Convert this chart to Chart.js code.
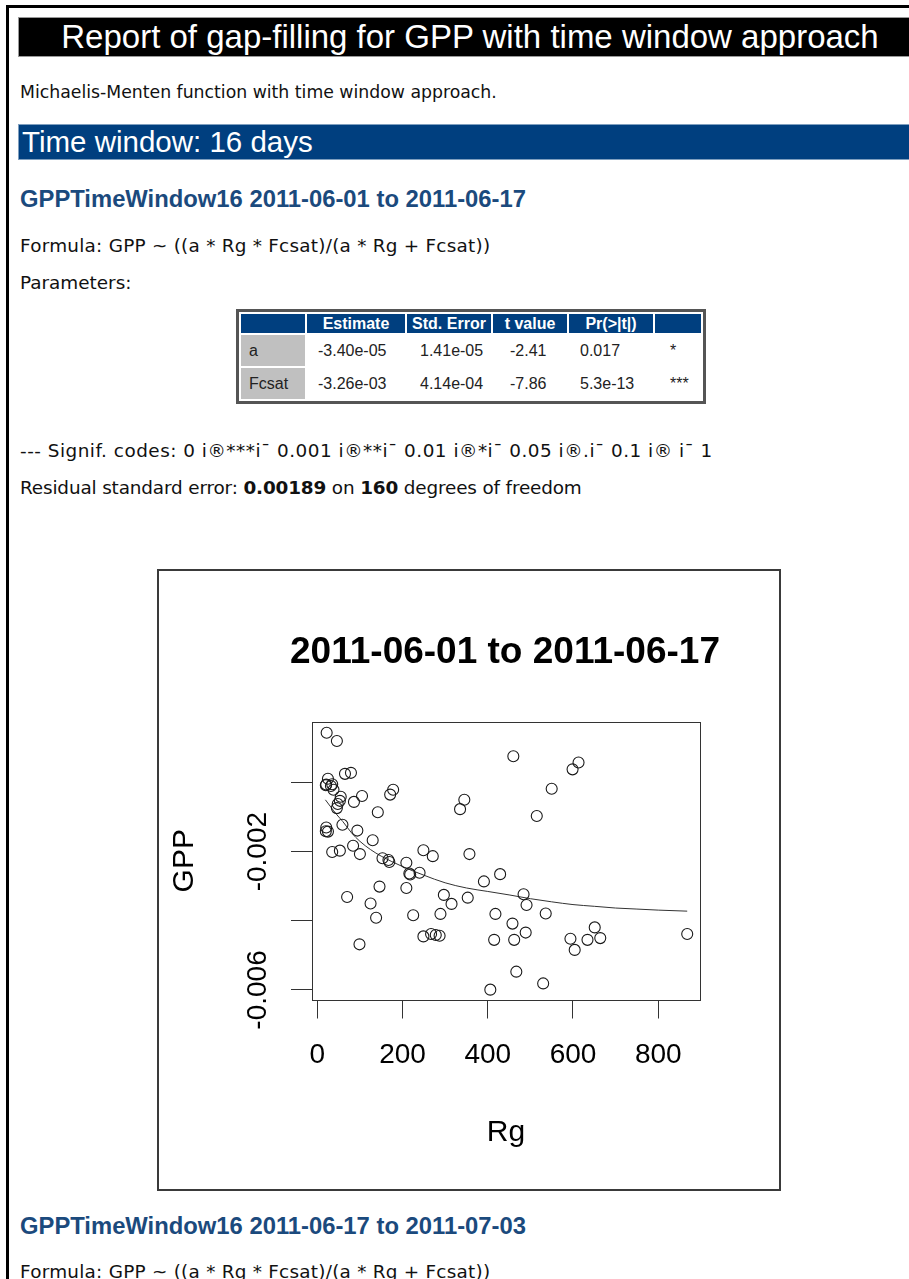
<!DOCTYPE html>
<html>
<head>
<meta charset="utf-8">
<script src="https://cdn.jsdelivr.net/npm/chart.js@4.4.1/dist/chart.umd.min.js"></script>
<style>
html,body{margin:0;padding:0;background:#fff;}
body{width:909px;height:1279px;overflow:hidden;position:relative;}
#pageborder{position:absolute;left:6px;top:5px;width:1000px;height:1400px;border-left:3px solid #000;border-top:3px solid #000;}
.t{position:absolute;white-space:nowrap;font-family:'DejaVu Sans',Verdana,sans-serif;color:#111;}
#h1{position:absolute;left:18px;top:17px;width:904px;height:40px;box-sizing:border-box;border:1px solid #999;background:#000;color:#fff;
  font:33px 'Liberation Sans',Arial,sans-serif;text-align:center;line-height:38px;white-space:nowrap;}
#h2{position:absolute;left:18px;top:124px;width:904px;height:36px;box-sizing:border-box;border:1px solid #7f9fbf;background:#003f7f;color:#fff;
  font:29.5px 'Liberation Sans',Arial,sans-serif;line-height:34px;padding-left:3px;white-space:nowrap;}
.h3{position:absolute;left:20px;font:bold 23.8px 'Liberation Sans',Arial,sans-serif;color:#1b4a7d;white-space:nowrap;line-height:28px;}
.p{font-size:18.4px;line-height:24px;left:20px;}
#tbl{position:absolute;left:236px;top:309px;border:3px solid #555;border-spacing:2px;table-layout:fixed;width:470px;
  font:16px 'Liberation Sans',Arial,sans-serif;color:#222;box-sizing:border-box;}
#tbl th{background:#003f7f;color:#fff;height:19px;padding:0;font-weight:bold;text-align:center;line-height:19px;font-size:16px;white-space:nowrap;overflow:hidden;}
#tbl td{height:31px;padding:0;text-align:left;white-space:nowrap;line-height:31px;}
#tbl td.rn{background:#c0c0c0;padding-left:8px;}
#frame{position:absolute;left:157px;top:569px;width:620px;height:618px;border:2px solid #3a3a3a;background:#fff;}
#chart{display:block;}
</style>
</head>
<body>
<div id="pageborder"></div>
<div id="h1">Report of gap-filling for GPP with time window approach</div>
<div class="t" style="left:20px;top:80px;font-size:17.3px;line-height:24px;">Michaelis-Menten function with time window approach.</div>
<div id="h2">Time window: 16 days</div>
<div class="h3" style="top:185px;">GPPTimeWindow16 2011-06-01 to 2011-06-17</div>
<div class="t p" style="top:234px;letter-spacing:0.25px;">Formula: GPP ~ ((a * Rg * Fcsat)/(a * Rg + Fcsat))</div>
<div class="t p" style="top:271px;">Parameters:</div>
<table id="tbl">
<colgroup><col style="width:64px"><col style="width:98px"><col style="width:84px"><col style="width:74px"><col style="width:84px"><col style="width:46px"></colgroup>
<tr><th></th><th>Estimate</th><th>Std. Error</th><th>t value</th><th>Pr(&gt;|t|)</th><th></th></tr>
<tr><td class="rn">a</td><td style="padding-left:11px">-3.40e-05</td><td style="padding-left:13px">1.41e-05</td><td style="padding-left:17px">-2.41</td><td style="padding-left:11px">0.017</td><td style="padding-left:15px">*</td></tr>
<tr><td class="rn">Fcsat</td><td style="padding-left:11px">-3.26e-03</td><td style="padding-left:13px">4.14e-04</td><td style="padding-left:17px">-7.86</td><td style="padding-left:11px">5.3e-13</td><td style="padding-left:15px">***</td></tr>
</table>
<div class="t p" style="top:439px;letter-spacing:0.5px;">--- Signif. codes: 0 i®***i¯ 0.001 i®**i¯ 0.01 i®*i¯ 0.05 i®.i¯ 0.1 i® i¯ 1</div>
<div class="t p" style="top:476px;letter-spacing:-0.15px;">Residual standard error: <b>0.00189</b> on <b>160</b> degrees of freedom</div>
<div id="frame"><canvas id="chart" width="620" height="618"></canvas></div>
<div class="h3" style="top:1212px;">GPPTimeWindow16 2011-06-17 to 2011-07-03</div>
<div class="t p" style="top:1260px;letter-spacing:0.25px;">Formula: GPP ~ ((a * Rg * Fcsat)/(a * Rg + Fcsat))</div>

<script>
// ---- data ----
const chartTitle = '2011-06-01 to 2011-06-17';
const xAxisTitle = 'Rg';
const yAxisTitle = 'GPP';

const rgValues = [
  22, 46, 460, 599, 613, 65, 79, 25, 21, 35,
  38, 55, 53, 46, 86, 105, 171, 178, 142, 345,
  335, 550, 515, 59, 21, 25, 94, 130, 35, 53,
  84, 100, 153, 169, 249, 271, 357, 209, 218, 240,
  429, 391, 146, 209, 70, 297, 353, 484, 315, 491,
  125, 289, 138, 225, 418, 536, 458, 489, 249, 267,
  278, 287, 415, 462, 594, 634, 651, 664, 604, 868,
  99, 467, 530, 406, 20, 32, 20, 167, 216, 48
];
const gppValues = [
  0.00144, 0.00120, 0.00076, 0.00038, 0.00058, 0.00025, 0.00028, 0.00011, -0.00006, -0.00005,
  -0.00021, -0.00041, -0.00053, -0.00074, -0.00056, -0.00039, -0.00035, -0.00021, -0.00086, -0.00050,
  -0.00077, -0.00018, -0.00097, -0.00122, -0.00130, -0.00142, -0.00139, -0.00167, -0.00201, -0.00197,
  -0.00183, -0.00207, -0.00219, -0.00230, -0.00196, -0.00213, -0.00207, -0.00232, -0.00266, -0.00261,
  -0.00265, -0.00286, -0.00301, -0.00305, -0.00331, -0.00325, -0.00333, -0.00323, -0.00351, -0.00354,
  -0.00350, -0.00380, -0.00391, -0.00384, -0.00380, -0.00379, -0.00408, -0.00434, -0.00445, -0.00438,
  -0.00441, -0.00443, -0.00455, -0.00455, -0.00452, -0.00455, -0.00419, -0.00450, -0.00484, -0.00438,
  -0.00468, -0.00547, -0.00581, -0.00599, -0.00008, -0.00010, -0.00141, -0.00224, -0.00263, -0.00062
];
const fitRg = [19, 30, 45, 60, 80, 100, 125, 150, 200, 250, 300, 350, 400, 450, 500, 550, 600, 650, 700, 750, 800, 868];
const fitGpp = [-0.00050, -0.00068, -0.00092, -0.00113, -0.00145, -0.00170, -0.00194, -0.00213, -0.00243, -0.00268, -0.00290,
  -0.00305, -0.00315, -0.00325, -0.00336, -0.00345, -0.00353, -0.00358, -0.00363, -0.00366, -0.00369, -0.00372];

const xTickValues = [0, 200, 400, 600, 800];
const xTickLabels = ['0', '200', '400', '600', '800'];
const yTickValues = [0, -0.002, -0.004, -0.006];
const yTickLabels = ['', '-0.002', '', '-0.006'];

// ---- chart ----
const FONT = "'Liberation Sans', Arial, Helvetica, sans-serif";
const INK = '#333';

const boxPlugin = {
  id: 'plotBox',
  afterDraw(chart) {
    const a = chart.chartArea, c = chart.ctx;
    c.save();
    c.strokeStyle = INK;
    c.lineWidth = 1;
    c.strokeRect(Math.round(a.left) + 0.5, Math.round(a.top) + 0.5, Math.round(a.right - a.left), Math.round(a.bottom - a.top));
    c.restore();
  }
};

new Chart(document.getElementById('chart'), {
  type: 'scatter',
  data: {
    datasets: [
      {
        type: 'scatter',
        data: rgValues.map((x, i) => ({x: x, y: gppValues[i]})),
        pointRadius: 5.5,
        pointHoverRadius: 5.5,
        pointBorderWidth: 1.1,
        pointBorderColor: '#1a1a1a',
        pointBackgroundColor: 'rgba(0,0,0,0)'
      },
      {
        type: 'line',
        data: fitRg.map((x, i) => ({x: x, y: fitGpp[i]})),
        borderColor: INK,
        borderWidth: 1,
        pointRadius: 0,
        fill: false,
        cubicInterpolationMode: 'monotone'
      }
    ]
  },
  options: {
    responsive: false,
    animation: false,
    events: [],
    layout: {padding: {left: 72, right: 0, top: 0, bottom: 0}},
    plugins: {
      legend: {display: false},
      tooltip: {enabled: false},
      title: {
        display: true,
        text: chartTitle,
        color: '#000',
        font: {family: FONT, size: 37, weight: 'bold', lineHeight: 1.2},
        padding: {top: 60, bottom: 46.6}
      }
    },
    scales: {
      x: {
        type: 'linear',
        min: -12.4,
        max: 898,
        afterBuildTicks: s => { s.ticks = xTickValues.map(v => ({value: v})); },
        afterFit: s => { s.height = 189.5; },
        ticks: {
          autoSkip: false, maxRotation: 0, minRotation: 0,
          callback: (v, i) => xTickLabels[i],
          color: '#000',
          font: {family: FONT, size: 28},
          padding: 19.7
        },
        grid: {drawOnChartArea: false, drawTicks: true, tickLength: 19, color: INK, tickColor: INK, lineWidth: 1},
        border: {display: false},
        title: {display: true, text: xAxisTitle, color: '#000', font: {family: FONT, size: 30, lineHeight: 1.2}, padding: {top: 0, bottom: 38}}
      },
      y: {
        type: 'linear',
        min: -0.006275,
        max: 0.00175,
        afterBuildTicks: s => { s.ticks = yTickValues.map(v => ({value: v})); },
        afterFit: s => { s.width = 81; },
        ticks: {
          autoSkip: false, minRotation: 90, maxRotation: 90,
          crossAlign: 'center',
          callback: (v, i) => yTickLabels[i],
          color: '#000',
          font: {family: FONT, size: 28},
          padding: -6.7
        },
        grid: {drawOnChartArea: false, drawTicks: true, tickLength: 21, color: INK, tickColor: INK, lineWidth: 1},
        border: {display: false},
        title: {display: true, text: yAxisTitle, color: '#000', font: {family: FONT, size: 30, lineHeight: 1.2}, padding: {top: -64, bottom: 0}}
      },
      rightMargin: {
        type: 'linear',
        position: 'right',
        display: true,
        afterFit: s => { s.width = 79; },
        ticks: {display: false},
        grid: {display: false, drawTicks: false},
        border: {display: false},
        title: {display: false}
      }
    }
  },
  plugins: [boxPlugin]
});
</script>
</body>
</html>
